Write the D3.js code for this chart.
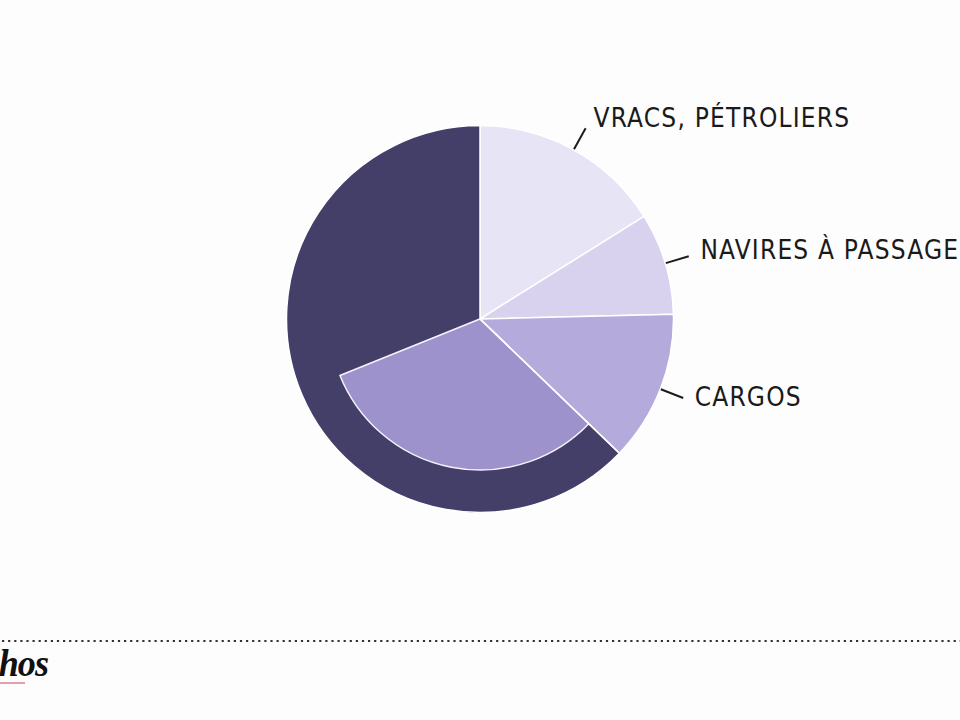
<!DOCTYPE html>
<html>
<head>
<meta charset="utf-8">
<script src="https://cdn.jsdelivr.net/npm/d3@7"></script>
<style>
  html, body { margin: 0; padding: 0; background: #fdfdfd; overflow: hidden; }
  svg { display: block; }
</style>
</head>
<body>
<svg id="chart" width="960" height="720"></svg>
<script>
// ---- data (shares in %) ----
const categories = ["VRACS, PÉTROLIERS", "NAVIRES À PASSAGERS", "CARGOS", "AUTRES"];
const values = [16.1, 8.5, 12.6, 62.8];
const showLabel = [true, true, true, false];
const colors = ["#e7e4f6", "#d8d2ee", "#b4abdc", "#433f69"];
// highlighted sub-part drawn inside the dark slice
const subValue = [31.7];
const subColor = ["#9e92cc"];
const logoText = "Les Echos";

// ---- layout ----
const svg = d3.select("#chart");
const W = 960, H = 720;
const cx = 480, cy = 319;
const R = 193.5, rSub = 151;

svg.append("rect").attr("width", W).attr("height", H).attr("fill", "#fdfdfd");

const g = svg.append("g").attr("transform", `translate(${cx},${cy})`);

const pie = d3.pie().sort(null).value(d => d.v).startAngle(0).endAngle(2 * Math.PI);
const data = categories.map((c, i) => ({ c, v: values[i], color: colors[i], show: showLabel[i] }));
const arcs = pie(data);

const arc = d3.arc().innerRadius(0).outerRadius(R);

g.selectAll("path.slice")
  .data(arcs)
  .join("path")
  .attr("class", "slice")
  .attr("d", arc)
  .attr("fill", d => d.data.color)
  .attr("stroke", "#ffffff")
  .attr("stroke-width", 1.5)
  .attr("stroke-linejoin", "round");

// inner sub-slice inside the dark slice
const angle = d3.scaleLinear().domain([0, d3.sum(values)]).range([0, 2 * Math.PI]);
const darkArc = arcs[3];
const subArc = d3.arc().innerRadius(0).outerRadius(rSub);
g.selectAll("path.sub")
  .data(subValue)
  .join("path")
  .attr("class", "sub")
  .attr("d", v => subArc({ startAngle: darkArc.startAngle, endAngle: darkArc.startAngle + angle(v) }))
  .attr("fill", (v, i) => subColor[i])
  .attr("stroke", "#f4f2fb")
  .attr("stroke-width", 1.5);

// redraw the boundary line between CARGOS and the dark slice on top
const bAng = darkArc.startAngle;
g.append("line")
  .attr("x1", 0).attr("y1", 0)
  .attr("x2", R * Math.sin(bAng)).attr("y2", -R * Math.cos(bAng))
  .attr("stroke", "#ffffff").attr("stroke-width", 1.5);

// ---- leader lines and labels ----
const r1 = 194, r2 = 218, rText = 226;
const labeled = arcs.filter(d => d.data.show);
labeled.forEach(d => {
  const a = (d.startAngle + d.endAngle) / 2;
  const sx = Math.sin(a), sy = -Math.cos(a);
  g.append("line")
    .attr("x1", r1 * sx).attr("y1", r1 * sy)
    .attr("x2", r2 * sx).attr("y2", r2 * sy)
    .attr("stroke", "#1c1c1c").attr("stroke-width", 2);
  g.append("text")
    .attr("x", rText * sx + 4)
    .attr("y", rText * sy - 2)
    .attr("dominant-baseline", "middle")
    .attr("font-family", "'DejaVu Sans Condensed', 'DejaVu Sans', sans-serif")
    .attr("font-size", 26)
    .attr("letter-spacing", 1.2)
    .attr("fill", "#1a1a1a")
    .text(d.data.c);
});

// ---- footer: dotted rule and logo ----
svg.append("line")
  .attr("x1", 2).attr("x2", W).attr("y1", 641).attr("y2", 641)
  .attr("stroke", "#333").attr("stroke-width", 2.2)
  .attr("stroke-dasharray", "2.2 3.9");

svg.append("text")
  .attr("transform", "translate(48,676) scale(0.95,1)")
  .attr("text-anchor", "end")
  .attr("font-family", "'Liberation Serif', 'DejaVu Serif', serif")
  .attr("font-weight", "bold")
  .attr("font-style", "italic")
  .attr("font-size", 38)
  .attr("letter-spacing", -1)
  .attr("fill", "#111")
  .text(logoText);

svg.append("line")
  .attr("x1", 0).attr("x2", 25).attr("y1", 683).attr("y2", 683)
  .attr("stroke", "#d9808f").attr("stroke-width", 1.5);
</script>
</body>
</html>
